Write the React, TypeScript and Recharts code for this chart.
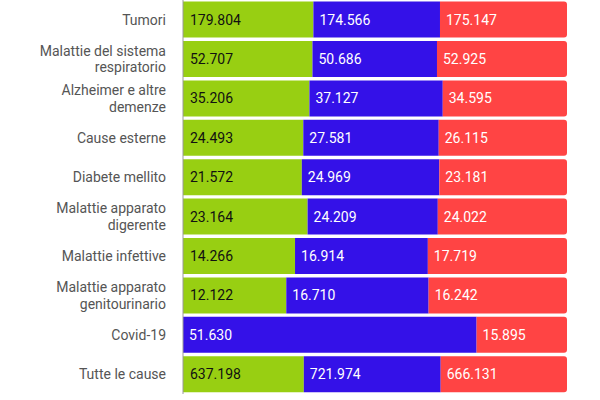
import { BarChart, Bar, XAxis, YAxis, LabelList, Text } from 'recharts';

const causes = [
  'Tumori',
  'Malattie del sistema respiratorio',
  'Alzheimer e altre demenze',
  'Cause esterne',
  'Diabete mellito',
  'Malattie apparato digerente',
  'Malattie infettive',
  'Malattie apparato genitourinario',
  'Covid-19',
  'Tutte le cause',
];

const serieVerde = [179804, 52707, 35206, 24493, 21572, 23164, 14266, 12122, 0, 637198];
const serieBlu = [174566, 50686, 37127, 27581, 24969, 24209, 16914, 16710, 51630, 721974];
const serieRossa = [175147, 52925, 34595, 26115, 23181, 24022, 17719, 16242, 15895, 666131];

const data = causes.map((name, i) => ({
  name,
  verde: serieVerde[i],
  blu: serieBlu[i],
  rossa: serieRossa[i],
}));

const FONT = 'Roboto, sans-serif';

// 179804 -> "179.804"
const fmt = (v: any) => String(v).replace(/\B(?=(\d{3})+(?!\d))/g, '.');

const CauseTick = (props: any) => {
  const { x, y, payload } = props;
  return (
    <Text
      x={x}
      y={y}
      width={145}
      textAnchor="end"
      verticalAnchor="middle"
      lineHeight="1.2em"
      fill="#555555"
      style={{ fontSize: 14, fontFamily: FONT }}
    >
      {payload.value}
    </Text>
  );
};

export default function App() {
  return (
    <div style={{ position: 'absolute', left: 0, top: 0, width: 600, height: 400, background: '#fff' }}>
      <BarChart
        width={600}
        height={400}
        data={data}
        layout="vertical"
        stackOffset="expand"
        barCategoryGap="4%"
        margin={{ top: 0, right: 33, bottom: 6, left: 1 }}
      >
        <XAxis type="number" hide domain={[0, 1]} />
        <YAxis
          type="category"
          dataKey="name"
          width={182}
          tickLine={false}
          axisLine={{ stroke: '#9a9a9a' }}
          tickMargin={11}
          tick={<CauseTick />}
          interval={0}
        />
        <Bar dataKey="verde" stackId="a" fill="#98cf12" isAnimationActive={false}>
          <LabelList
            dataKey="verde"
            position="insideLeft"
            offset={7}
            formatter={fmt}
            fill="#111111"
            style={{ fontSize: 14, fontFamily: FONT }}
          />
        </Bar>
        <Bar dataKey="blu" stackId="a" fill="#3411e8" isAnimationActive={false}>
          <LabelList
            dataKey="blu"
            position="insideLeft"
            offset={6}
            formatter={fmt}
            fill="#ffffff"
            style={{ fontSize: 14, fontFamily: FONT }}
          />
        </Bar>
        <Bar dataKey="rossa" stackId="a" fill="#ff4444" radius={[0, 3, 3, 0]} isAnimationActive={false}>
          <LabelList
            dataKey="rossa"
            position="insideLeft"
            offset={6}
            formatter={fmt}
            fill="#ffffff"
            style={{ fontSize: 14, fontFamily: FONT }}
          />
        </Bar>
      </BarChart>
    </div>
  );
}
